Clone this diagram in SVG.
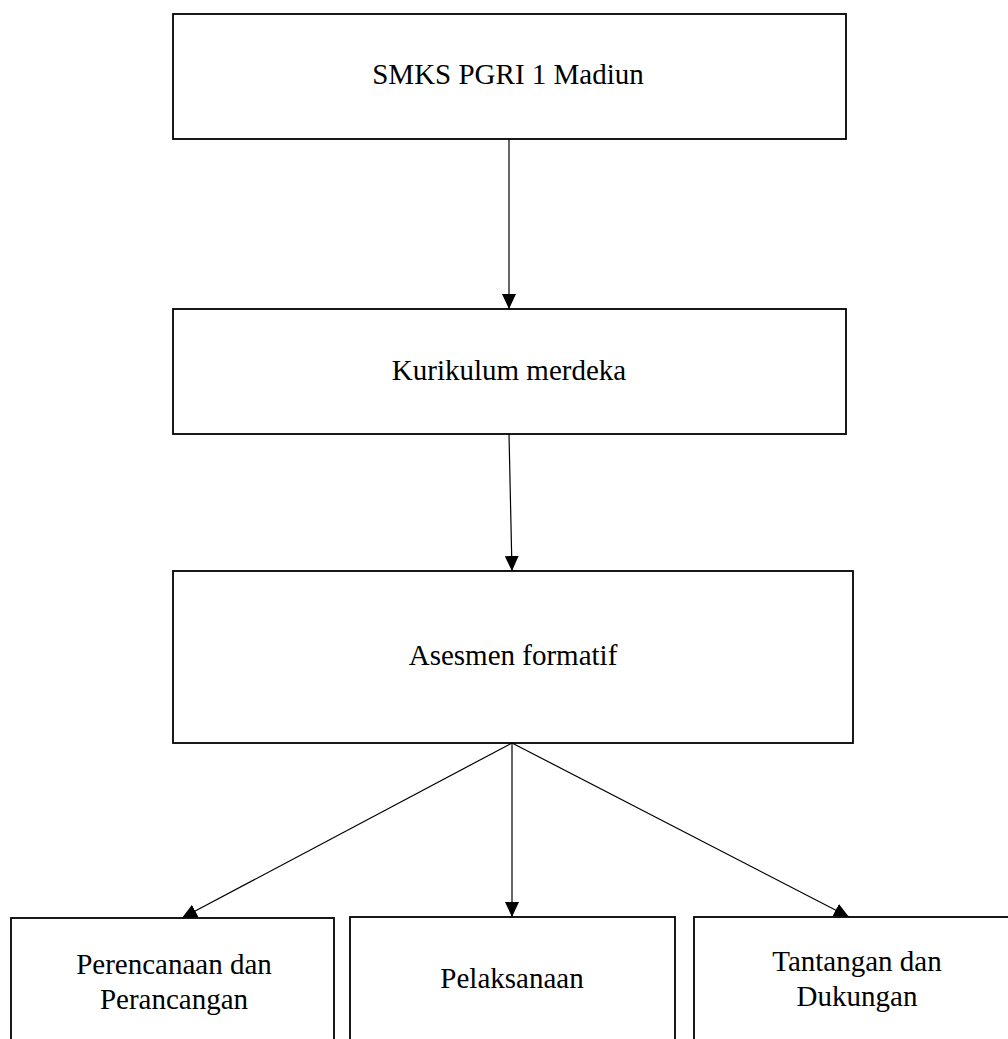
<svg xmlns="http://www.w3.org/2000/svg" width="1008" height="1039" viewBox="0 0 1008 1039">
<style>
.box{fill:#fff;stroke:#000;stroke-width:1.8}
.lbl{font-family:"Liberation Serif","Times New Roman",serif;font-size:29px;fill:#000;text-anchor:middle}
.con{stroke:#000;stroke-width:1.2;fill:none}
</style>
<defs>
<marker id="ah" markerWidth="15" markerHeight="14" refX="15" refY="7" viewBox="0 0 15 14" markerUnits="userSpaceOnUse" orient="auto">
<path d="M0,0 L15,7 L0,14 Z" fill="#000"/>
</marker>
</defs>
<rect width="1008" height="1039" fill="#fff"/>
<g id="node-smks"><rect class="box" x="173" y="14" width="673" height="125"/><text class="lbl" x="508" y="84">SMKS PGRI 1 Madiun</text></g>
<g id="node-kurikulum"><rect class="box" x="173" y="309" width="673" height="125"/><text class="lbl" x="509" y="380">Kurikulum merdeka</text></g>
<g id="node-asesmen"><rect class="box" x="173" y="571" width="680" height="172"/><text class="lbl" x="513" y="665">Asesmen formatif</text></g>
<g id="node-perencanaan"><rect class="box" x="11" y="918" width="323" height="140"/><text class="lbl" x="174" y="974">Perencanaan dan</text><text class="lbl" x="174" y="1009">Perancangan</text></g>
<g id="node-pelaksanaan"><rect class="box" x="350" y="917" width="325" height="140"/><text class="lbl" x="512" y="988">Pelaksanaan</text></g>
<g id="node-tantangan"><rect class="box" x="694" y="917" width="330" height="140"/><text class="lbl" x="857" y="971">Tantangan dan</text><text class="lbl" x="857" y="1006">Dukungan</text></g>
<g id="connectors">
<line class="con" x1="509" y1="139" x2="509" y2="309" marker-end="url(#ah)"/>
<line class="con" x1="509" y1="434" x2="512" y2="571" marker-end="url(#ah)"/>
<line class="con" x1="512" y1="743" x2="182" y2="918" marker-end="url(#ah)"/>
<line class="con" x1="512" y1="743" x2="512" y2="917" marker-end="url(#ah)"/>
<line class="con" x1="512" y1="743" x2="849" y2="917" marker-end="url(#ah)"/>
</g>
</svg>
